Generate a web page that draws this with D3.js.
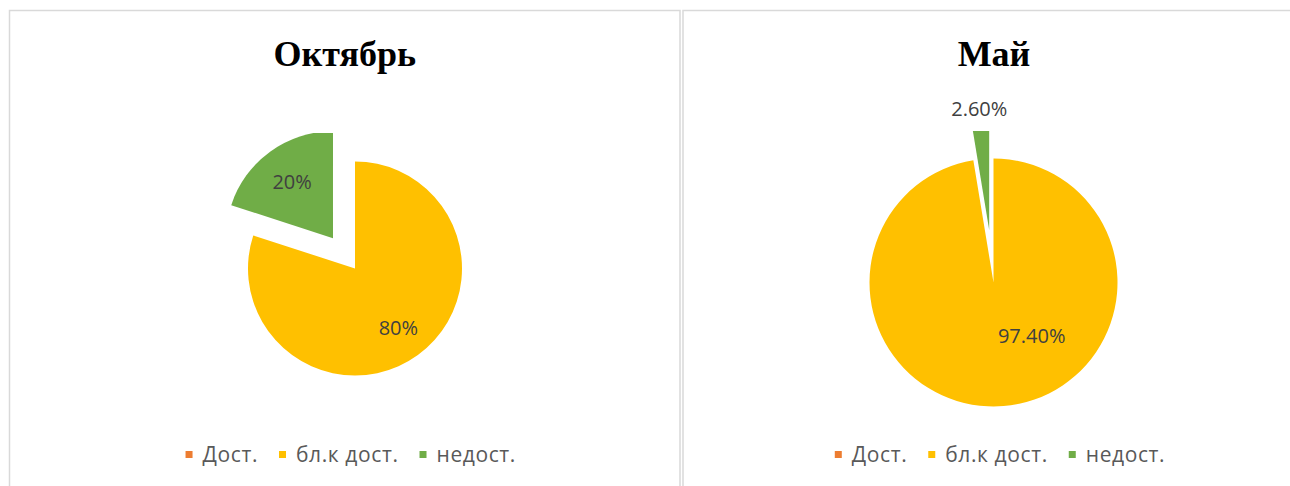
<!DOCTYPE html>
<html>
<head>
<meta charset="utf-8">
<script src="https://cdn.jsdelivr.net/npm/d3@7"></script>
<style>
  body { margin: 0; background: #fff; }
</style>
</head>
<body>
<script>
var width = 1290;
var height = 486;

// data
var categories = ["Дост.", "бл.к дост.", "недост."];
var colors = ["#ED7D31", "#FFC000", "#70AD47"];
var titles = ["Октябрь", "Май"];
var octValues = [0, 80, 20];
var mayValues = [0, 97.4, 2.6];

// layout of each panel (label: [angle in deg or null for middle, radius fraction])
var charts = [
  { title: titles[0], values: octValues, fmt: d3.format(".0%"),
    x0: 9.5, x1: 680, cx: 355, cy: 268.5, r: 107, clipTop: 133,
    explode: {2: 0.35}, labels: {1: [null, 0.69], 2: [null, 0.65]} },
  { title: titles[1], values: mayValues, fmt: d3.format(".2%"),
    x0: 683, x1: 1305, cx: 993.5, cy: 282.5, r: 124, clipTop: 131,
    explode: {2: 0.425}, labels: {1: [144.5, 0.53], 2: [null, 0.98]} }
];

var svg = d3.select("body")
  .append("svg")
  .attr("width", width)
  .attr("height", height);

var pie = d3.pie().sort(null).value(function(d) { return d; });

charts.forEach(function(c, ci) {
  var g = svg.append("g");

  // panel border
  g.append("rect")
    .attr("x", c.x0).attr("y", 10.5)
    .attr("width", c.x1 - c.x0).attr("height", height)
    .attr("fill", "none")
    .attr("stroke", "#d9d9d9")
    .attr("stroke-width", 1.5);

  g.append("text")
    .attr("x", (c.x0 + c.x1) / 2)
    .attr("y", 66)
    .attr("text-anchor", "middle")
    .style("font-family", "'Liberation Serif', 'Times New Roman', serif")
    .style("font-weight", "bold")
    .style("font-size", "36px")
    .style("fill", "#000")
    .text(c.title);

  svg.append("clipPath").attr("id", "clip" + ci)
    .append("rect")
    .attr("x", c.x0).attr("y", c.clipTop)
    .attr("width", c.x1 - c.x0).attr("height", height - c.clipTop);

  var total = d3.sum(c.values);
  var arc = d3.arc().innerRadius(0).outerRadius(c.r);
  var arcs = pie(c.values);

  var slices = g.append("g").attr("clip-path", "url(#clip" + ci + ")");

  arcs.forEach(function(a, i) {
    if (a.value === 0) return;
    var mid = (a.startAngle + a.endAngle) / 2;
    var ex = (c.explode[i] || 0) * c.r;
    var ox = c.cx + Math.sin(mid) * ex;
    var oy = c.cy - Math.cos(mid) * ex;

    slices.append("path")
      .attr("d", arc(a))
      .attr("transform", "translate(" + ox + "," + oy + ")")
      .attr("fill", colors[i]);

    var lab = c.labels[i];
    var ang = lab[0] === null ? mid : lab[0] * Math.PI / 180;
    g.append("text")
      .attr("x", ox + Math.sin(ang) * c.r * lab[1])
      .attr("y", oy - Math.cos(ang) * c.r * lab[1])
      .attr("dy", "0.35em")
      .attr("text-anchor", "middle")
      .style("font-family", "'Open Sans', sans-serif")
      .style("font-size", "20px")
      .style("fill", "#404040")
      .text(c.fmt(a.value / total));
  });

  // legend
  var leg = g.append("g");
  var xpos = 0;
  categories.forEach(function(name, i) {
    leg.append("rect")
      .attr("x", xpos).attr("y", -11)
      .attr("width", 7).attr("height", 7)
      .attr("fill", colors[i]);
    var t = leg.append("text")
      .attr("x", xpos + 17)
      .attr("y", 0)
      .style("font-family", "'Open Sans', sans-serif")
      .style("font-size", "21px")
      .style("letter-spacing", "0.6px")
      .style("fill", "#595959")
      .text(name);
    xpos += 17 + t.node().getComputedTextLength() + 21;
  });
  var legW = xpos - 21;
  leg.attr("transform", "translate(" + ((c.x0 + c.x1) / 2 + 6 - legW / 2) + ",462)");
});
</script>
</body>
</html>
